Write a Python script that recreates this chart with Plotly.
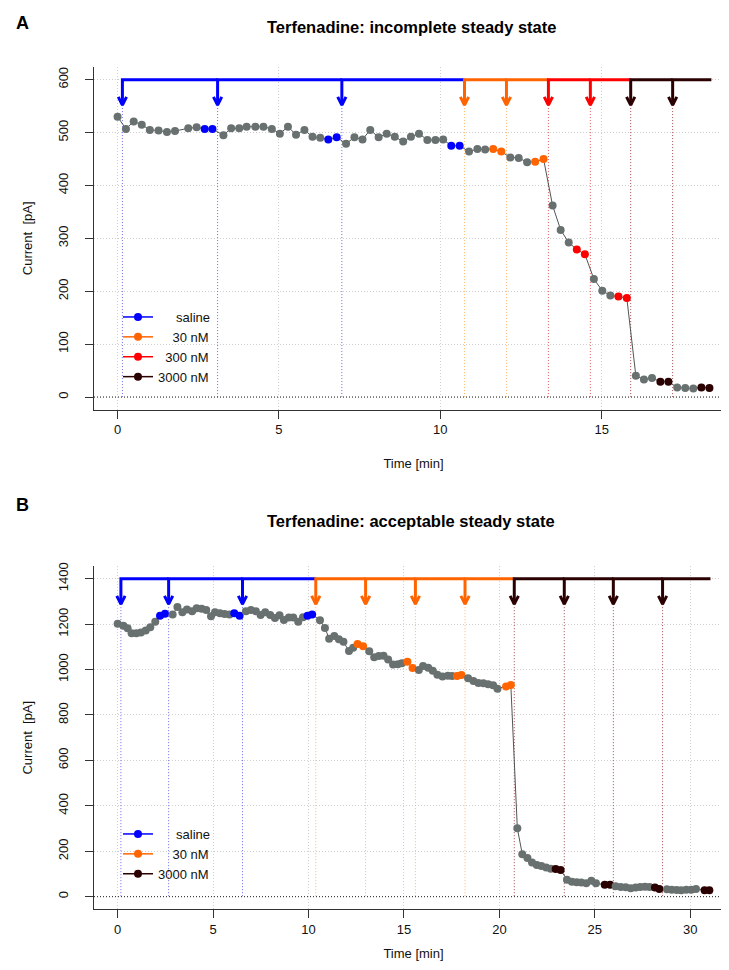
import plotly.graph_objects as go

# ---------------- Panel A data: incomplete steady state ----------------
a_time = [0.00, 0.26, 0.50, 0.75, 1.00, 1.27, 1.53, 1.78, 2.19, 2.45, 2.70, 2.94,
          3.28, 3.52, 3.77, 4.00, 4.27, 4.52, 4.78, 5.03, 5.28, 5.53, 5.79, 6.04,
          6.28, 6.53, 6.79, 7.08, 7.34, 7.59, 7.83, 8.09, 8.34, 8.59, 8.85, 9.09,
          9.34, 9.60, 9.85, 10.09, 10.34, 10.60, 10.89, 11.15, 11.39, 11.64, 11.89,
          12.17, 12.43, 12.69, 12.94, 13.20, 13.48, 13.73, 13.98, 14.23, 14.48,
          14.76, 15.02, 15.27, 15.52, 15.78, 16.06, 16.31, 16.56, 16.82, 17.07,
          17.34, 17.59, 17.84, 18.09, 18.34]
a_current = [530, 507, 521, 515, 505, 504, 501, 503, 508, 510, 507, 507,
             495, 508, 508, 511, 511, 511, 507, 498, 511, 496, 505, 492,
             490, 487, 491, 479, 491, 487, 505, 491, 498, 492, 483, 492,
             498, 486, 486, 487, 475, 475, 464, 469, 468, 469, 464,
             453, 452, 444, 445, 450, 362, 316, 292, 279, 270,
             223, 201, 192, 190, 187, 40, 33, 36, 29, 29,
             18, 17, 16, 18, 17]
a_event_time = [0.15, 3.10, 6.95, 10.75, 12.05, 13.35, 14.65, 15.90, 17.20]
a_event_conc = ["saline", "saline", "saline", "30 nM", "30 nM", "300 nM", "300 nM",
                "3000 nM", "3000 nM"]
a_end_time = 18.4
a_top = 600
a_legend = ["saline", "30 nM", "300 nM", "3000 nM"]
a_title = "Terfenadine: incomplete steady state"

# ---------------- Panel B data: acceptable steady state ----------------
b_time = [0.00, 0.30, 0.52, 0.73, 0.98, 1.22, 1.47, 1.71, 1.97, 2.22, 2.48, 2.88,
          3.13, 3.39, 3.63, 3.90, 4.14, 4.40, 4.64, 4.89, 5.10, 5.36, 5.60, 5.86,
          6.11, 6.39, 6.72, 6.98, 7.24, 7.49, 7.73, 7.99, 8.24, 8.48, 8.71, 8.97,
          9.20, 9.46, 9.71, 9.95, 10.19, 10.60, 10.86, 11.08, 11.35, 11.59, 11.83,
          12.12, 12.34, 12.57, 12.86, 13.18, 13.44, 13.68, 13.93, 14.17, 14.43,
          14.68, 14.89, 15.18, 15.45, 15.78, 16.00, 16.27, 16.51, 16.75, 17.02,
          17.30, 17.52, 17.78, 18.01, 18.36, 18.64, 18.90, 19.16, 19.41, 19.67,
          19.90, 20.35, 20.60, 20.94, 21.20, 21.47, 21.71, 21.96, 22.20, 22.45,
          22.69, 22.95, 23.21, 23.54, 23.80, 24.05, 24.29, 24.55, 24.82, 25.06,
          25.52, 25.80, 26.09, 26.36, 26.62, 26.88, 27.14, 27.38, 27.63, 27.87,
          28.15, 28.38, 28.78, 29.03, 29.29, 29.53, 29.79, 30.05, 30.30, 30.75, 31.00]
b_current = [1202, 1193, 1182, 1160, 1160, 1163, 1172, 1186, 1211, 1237, 1246, 1242,
             1276, 1252, 1264, 1257, 1270, 1268, 1262, 1235, 1252, 1248, 1245, 1242,
             1248, 1237, 1257, 1262, 1257, 1240, 1252, 1240, 1227, 1239, 1218, 1229,
             1229, 1210, 1230, 1237, 1243, 1217, 1183, 1136, 1148, 1133, 1122,
             1082, 1096, 1113, 1103, 1081, 1054, 1060, 1061, 1044, 1022,
             1023, 1028, 1034, 1007, 998, 1016, 1008, 995, 977, 970,
             973, 972, 972, 976, 962, 950, 941, 940, 935, 931,
             916, 925, 932, 301, 187, 170, 150, 140, 135, 129,
             123, 122, 118, 75, 66, 63, 62, 59, 70, 59,
             53, 52, 46, 43, 41, 37, 40, 43, 44, 43,
             40, 34, 33, 31, 29, 28, 30, 30, 34, 28, 28]
b_event_time = [0.17, 2.67, 6.54, 10.38, 12.99, 15.60, 18.20, 20.78, 23.40, 25.97, 28.55]
b_event_conc = ["saline", "saline", "saline", "30 nM", "30 nM", "30 nM", "30 nM",
                "3000 nM", "3000 nM", "3000 nM", "3000 nM"]
b_end_time = 31.06
b_top = 1400
b_legend = ["saline", "30 nM", "3000 nM"]
b_title = "Terfenadine: acceptable steady state"

# ---------------- styles ----------------
FONT = "Liberation Sans, Arial, Helvetica, sans-serif"
COLORS = {"saline": "#0000FF", "30 nM": "#FF6400", "300 nM": "#FF0000", "3000 nM": "#2B0000"}
DOT_COLORS = {"saline": "#6A6AEA", "30 nM": "#FFB870", "300 nM": "#E05A5A", "3000 nM": "#A04A4A"}
GRAY_PT = "#697170"
GRAY_LINE = "#505553"
LEGEND_PAD = {"saline": 5, "30 nM": 4, "300 nM": 2, "3000 nM": 0}
FINE_DOT = "1px,2px"

W, H = 729, 970
X_DOM = [86 / W, 725 / W]
A_YDOM = [1 - 401.7 / H, 1 - 59 / H]
B_YDOM = [1 - 901.4 / H, 1 - 558 / H]
A_XR, A_YR = [-0.73, 19.07], [-24, 624]
B_XR, B_YR = [-1.24, 32.24], [-56, 1456]

fig = go.Figure()


def add_panel(time, current, ev_t, ev_c, end_t, top, xr, yr, xa, ya, legend_id, legend_items):
    bounds = list(ev_t) + [end_t]
    tip = top * 0.92
    head_dx = (xr[1] - xr[0]) * 0.0065
    head_dy = (yr[1] - yr[0]) * 0.024

    # dotted application lines
    for conc in dict.fromkeys(ev_c):
        xs, ys = [], []
        for t, c in zip(ev_t, ev_c):
            if c == conc:
                xs += [t, t, None]
                ys += [tip, 0, None]
        fig.add_trace(go.Scatter(x=xs, y=ys, mode="lines", xaxis=xa, yaxis=ya,
                                 line=dict(color=DOT_COLORS[conc], width=1, dash=FINE_DOT),
                                 showlegend=False, hoverinfo="skip"))

    # application arrows
    for conc in dict.fromkeys(ev_c):
        xs, ys = [], []
        for i, (t, c) in enumerate(zip(ev_t, ev_c)):
            if c != conc:
                continue
            xs += [bounds[i + 1], t, t, None, t - head_dx, t, t + head_dx, None]
            ys += [top, top, tip, None, tip + head_dy, tip, tip + head_dy, None]
        fig.add_trace(go.Scatter(x=xs, y=ys, mode="lines", xaxis=xa, yaxis=ya,
                                 line=dict(color=COLORS[conc], width=3),
                                 showlegend=False, hoverinfo="skip"))

    # marker colours: last two samples of every application interval
    colors = [GRAY_PT] * len(time)
    for i, c in enumerate(ev_c):
        idx = [k for k, t in enumerate(time) if bounds[i] <= t < bounds[i + 1]]
        for k in idx[-2:]:
            colors[k] = COLORS[c]

    fig.add_trace(go.Scatter(x=time, y=current, mode="lines+markers", xaxis=xa, yaxis=ya,
                             line=dict(color=GRAY_LINE, width=1),
                             marker=dict(color=colors, size=8),
                             showlegend=False))

    # legend entries
    for conc in legend_items:
        fig.add_trace(go.Scatter(x=[None], y=[None], mode="lines+markers", xaxis=xa, yaxis=ya,
                                 name="\u00a0" * LEGEND_PAD[conc] + conc,
                                 line=dict(color=COLORS[conc], width=1.5),
                                 marker=dict(color=COLORS[conc], size=8),
                                 legend=legend_id, showlegend=True))


add_panel(a_time, a_current, a_event_time, a_event_conc, a_end_time, a_top,
          A_XR, A_YR, "x", "y", "legend", a_legend)
add_panel(b_time, b_current, b_event_time, b_event_conc, b_end_time, b_top,
          B_XR, B_YR, "x2", "y2", "legend2", b_legend)


def xaxis(rng, dom, anchor, title_standoff):
    return dict(domain=dom, range=rng, anchor=anchor, tickmode="linear", tick0=0, dtick=5,
                ticks="outside", ticklen=8, tickcolor="#333", tickwidth=1,
                showline=True, linecolor="#333", linewidth=1, mirror=False,
                showgrid=True, gridcolor="#CFCFCF", griddash=FINE_DOT, gridwidth=1,
                zeroline=False, ticklabelstandoff=0,
                tickfont=dict(size=13, color="#111", family=FONT),
                title=dict(text="Time [min]", font=dict(size=13, color="#111", family=FONT),
                           standoff=title_standoff))


def yaxis(rng, dom, anchor, dtick):
    return dict(domain=dom, range=rng, anchor=anchor, tickmode="linear", tick0=0, dtick=dtick,
                ticks="outside", ticklen=8, tickcolor="#333", tickwidth=1, tickangle=-90,
                showline=True, linecolor="#333", linewidth=1, mirror=False,
                showgrid=True, gridcolor="#CFCFCF", griddash=FINE_DOT, gridwidth=1,
                zeroline=False, ticklabelstandoff=12,
                tickfont=dict(size=13, color="#111", family=FONT),
                title=dict(text="Current\u00a0\u00a0[pA]", font=dict(size=13, color="#111", family=FONT),
                           standoff=20))


shapes = [
    dict(type="line", xref="x domain", yref="y", x0=0, x1=1, y0=0, y1=0,
         line=dict(color="#222", width=1, dash=FINE_DOT)),
    dict(type="line", xref="x2 domain", yref="y2", x0=0, x1=1, y0=0, y1=0,
         line=dict(color="#222", width=1, dash=FINE_DOT)),
]

xc = 403 / W
annotations = [
    dict(text="<b>A</b>", x=14 / W, y=1 - 3 / H, xref="paper", yref="paper", showarrow=False,
         xanchor="center", yanchor="top", font=dict(size=18, color="#000", family=FONT)),
    dict(text="<b>B</b>", x=14 / W, y=1 - 497 / H, xref="paper", yref="paper", showarrow=False,
         xanchor="center", yanchor="middle", font=dict(size=18, color="#000", family=FONT)),
    dict(text="<b>" + a_title + "</b>", x=xc, y=1 - 19 / H, xref="paper", yref="paper",
         xanchor="center", yanchor="middle",
         showarrow=False, font=dict(size=16.5, color="#000", family=FONT)),
    dict(text="<b>" + b_title + "</b>", x=xc, y=1 - 513 / H, xref="paper", yref="paper",
         xanchor="center", yanchor="middle",
         showarrow=False, font=dict(size=16.5, color="#000", family=FONT)),
]

legend_style = dict(bgcolor="rgba(0,0,0,0)", borderwidth=0, itemwidth=30,
                    font=dict(size=13, color="#111", family=FONT),
                    xanchor="left", yanchor="top", tracegroupgap=0)

fig.update_layout(
    width=W, height=H,
    margin=dict(l=0, r=0, t=0, b=0, autoexpand=False),
    paper_bgcolor="white", plot_bgcolor="white",
    font=dict(family=FONT, size=13, color="#111"),
    xaxis=xaxis(A_XR, X_DOM, "y", 22),
    yaxis=yaxis(A_YR, A_YDOM, "x", 100),
    xaxis2=xaxis(B_XR, X_DOM, "y2", 12),
    yaxis2=yaxis(B_YR, B_YDOM, "x2", 200),
    shapes=shapes,
    annotations=annotations,
    legend=dict(x=110 / W, y=1 - 294 / H, **legend_style),
    legend2=dict(x=110 / W, y=1 - 811 / H, **legend_style),
    showlegend=True,
)

fig.write_html("out.html")
